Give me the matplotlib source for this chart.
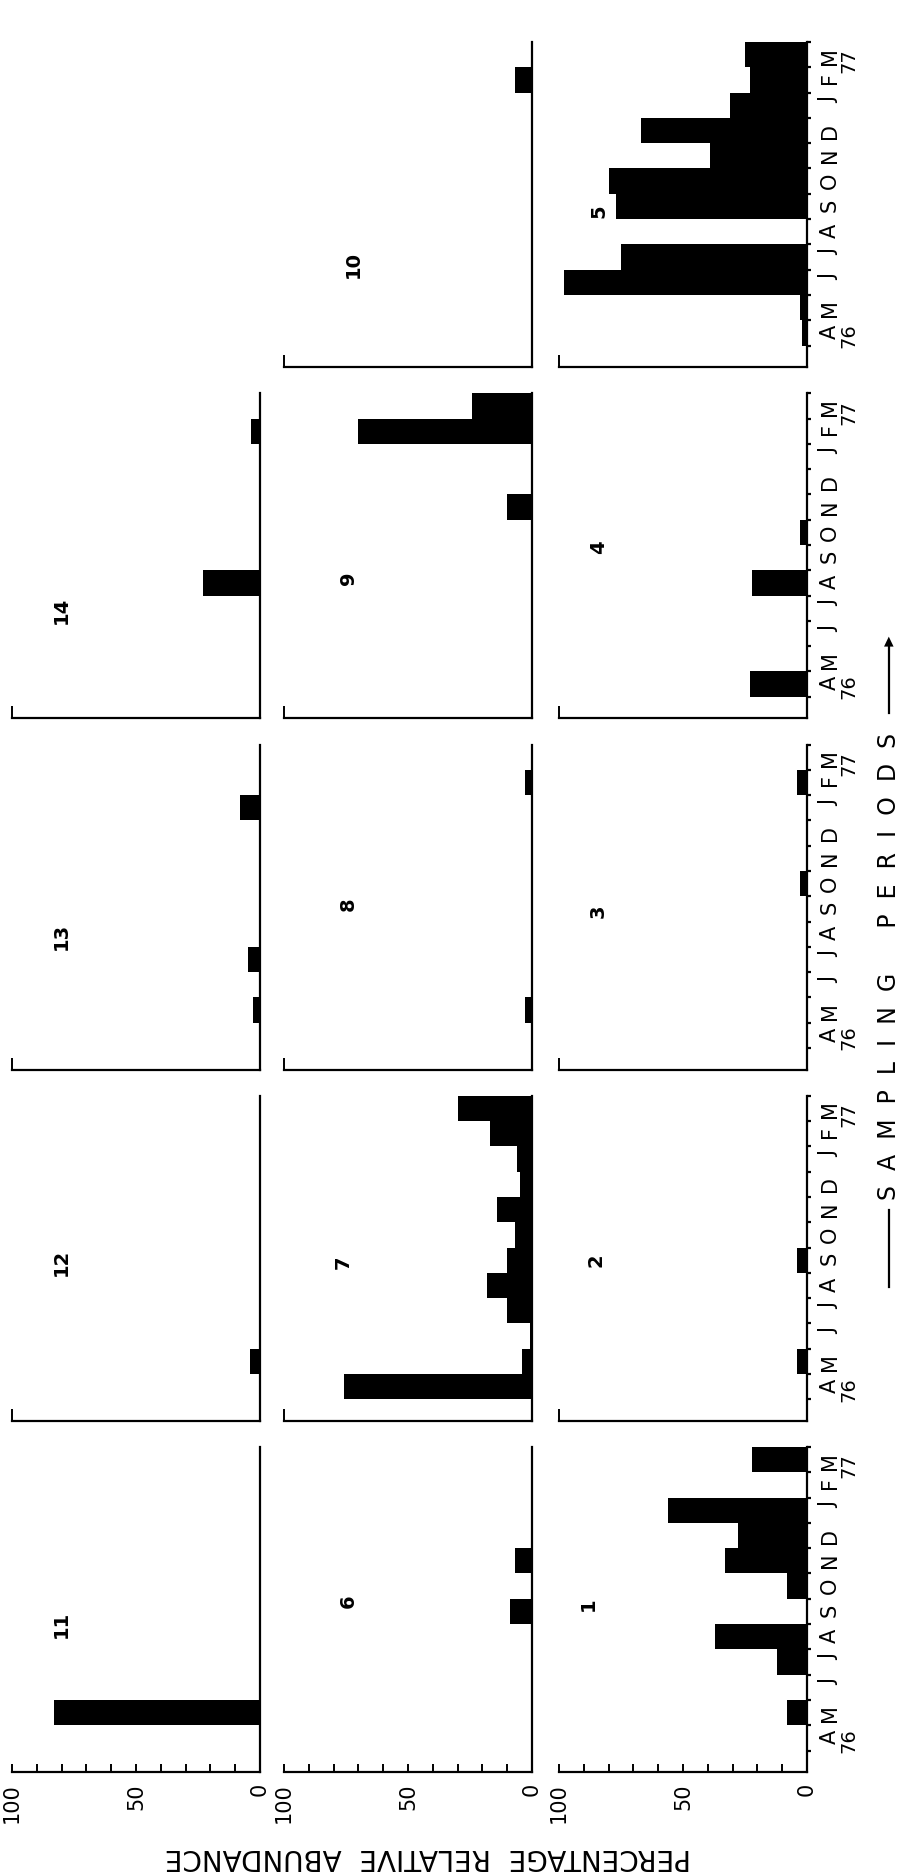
import numpy as np
import matplotlib.pyplot as plt
from matplotlib.lines import Line2D
from matplotlib.transforms import blended_transform_factory

plt.rcParams['font.family'] = ['DejaVu Sans']

# sampling periods, April 1976 to March 1977
months = ["A", "M", "J", "J", "A", "S", "O", "N", "D", "J", "F", "M"]

# percentage relative abundance per station
st1 = [0, 8, 0, 12, 37, 0, 8, 33, 28, 56, 0, 22]
st2 = [0, 4, 0, 0, 0, 4, 0, 0, 0, 0, 0, 0]
st3 = [0, 0, 0, 0, 0, 0, 3, 0, 0, 0, 4, 0]
st4 = [23, 0, 0, 0, 22, 0, 3, 0, 0, 0, 0, 0]
st5 = [2, 3, 98, 75, 0, 77, 80, 39, 67, 31, 23, 25]
st6 = [0, 0, 0, 0, 0, 9, 0, 7, 0, 0, 0, 0]
st7 = [76, 4, 1, 10, 18, 10, 7, 14, 5, 6, 17, 30]
st8 = [0, 3, 0, 0, 0, 0, 0, 0, 0, 0, 3, 0]
st9 = [0, 0, 0, 0, 0, 0, 0, 10, 0, 0, 70, 24]
st10 = [0, 0, 0, 0, 0, 0, 0, 0, 0, 0, 7, 0]
st11 = [0, 83, 0, 0, 0, 0, 0, 0, 0, 0, 0, 0]
st12 = [0, 4, 0, 0, 0, 0, 0, 0, 0, 0, 0, 0]
st13 = [0, 3, 0, 5, 0, 0, 0, 0, 0, 8, 0, 0]
st14 = [0, 0, 0, 0, 23, 0, 0, 0, 0, 0, 3.5, 0]

series = {1: st1, 2: st2, 3: st3, 4: st4, 5: st5, 6: st6, 7: st7,
          8: st8, 9: st9, 10: st10, 11: st11, 12: st12, 13: st13, 14: st14}

# page is printed turned on its side: station grid as it appears on the page
grid = [[None, 10, 5],
        [14, 9, 4],
        [13, 8, 3],
        [12, 7, 2],
        [11, 6, 1]]

# where the station number sits (value, month position)
label_pos = {1: (88, 5.8), 2: (85, 5.5), 3: (84, 5.4), 4: (84, 5.9), 5: (84, 5.3),
             6: (74, 5.9), 7: (76, 5.4), 8: (74, 5.7), 9: (74, 4.7), 10: (72, 3.2),
             11: (80, 5.0), 12: (80, 5.4), 13: (80, 4.4), 14: (80, 3.4)}

W, H = 899, 1875
fig = plt.figure(figsize=(W / 100, H / 100), dpi=100)

col_left = [12, 284, 559]
ax_w, ax_h = 248, 325
row_base = [367 + 351.25 * r for r in range(5)]
pos = np.arange(12) + 0.5

for r, row in enumerate(grid):
    for c, num in enumerate(row):
        if num is None:
            continue
        ax = fig.add_axes([col_left[c] / W, 1 - row_base[r] / H, ax_w / W, ax_h / H])
        ax.barh(pos, series[num], height=1.0, color='black', left=0)
        ax.set_xlim(100, 0)
        ax.set_ylim(-0.85, 12)
        ax.spines['top'].set_visible(False)
        ax.spines['left'].set_visible(False)
        ax.spines['bottom'].set_linewidth(1.6)
        ax.spines['right'].set_linewidth(1.6)

        if r == 4:
            ax.set_xticks(np.arange(0, 101, 10))
            ax.set_xticklabels(['0' if v == 0 else '50' if v == 50 else '100' if v == 100 else ''
                                for v in range(0, 101, 10)], rotation=90, fontsize=15)
            ax.tick_params(axis='x', direction='in', length=6, width=1.4, pad=8)
        else:
            ax.set_xticks([100])
            ax.set_xticklabels([])
            ax.tick_params(axis='x', direction='in', length=9, width=1.4)

        if c == 2:
            ax.yaxis.tick_right()
            ax.set_yticks(np.arange(13))
            ax.set_yticklabels([])
            ax.set_yticks(pos, minor=True)
            ax.set_yticklabels(months, minor=True, rotation=90, fontsize=15)
            ax.tick_params(axis='y', which='major', direction='out', length=3, width=1.6)
            ax.tick_params(axis='y', which='minor', length=0, pad=9)
            tr = blended_transform_factory(ax.transAxes, ax.transData)
            ax.text(1.17, 0.4, '76', transform=tr, rotation=90, fontsize=14,
                    ha='center', va='center')
            ax.text(1.17, 11.25, '77', transform=tr, rotation=90, fontsize=14,
                    ha='center', va='center')
        else:
            ax.set_yticks([])

        lx, ly = label_pos[num]
        ax.text(lx, ly, str(num), rotation=90, fontsize=14, fontweight='bold',
                ha='center', va='center')

# axis titles, printed sideways with the page
fig.text(428 / W, 1 - 1857 / H, 'PERCENTAGE  RELATIVE  ABUNDANCE', rotation=180,
         fontsize=20, ha='center', va='center')
fig.text(889 / W, 1 - 966 / H, 'S  A  M  P  L  I  N  G      P  E  R  I  O  D  S',
         rotation=90, fontsize=17, ha='center', va='center')
fig.add_artist(Line2D([889 / W, 889 / W], [1 - 1287 / H, 1 - 1210 / H],
                      color='black', lw=1.6))
fig.add_artist(Line2D([889 / W, 889 / W], [1 - 713 / H, 1 - 645 / H],
                      color='black', lw=1.6))
fig.text(889 / W, 1 - 641 / H, '\u25b2', fontsize=9, ha='center', va='center')

fig.savefig('out.png', dpi=100, facecolor='white')
